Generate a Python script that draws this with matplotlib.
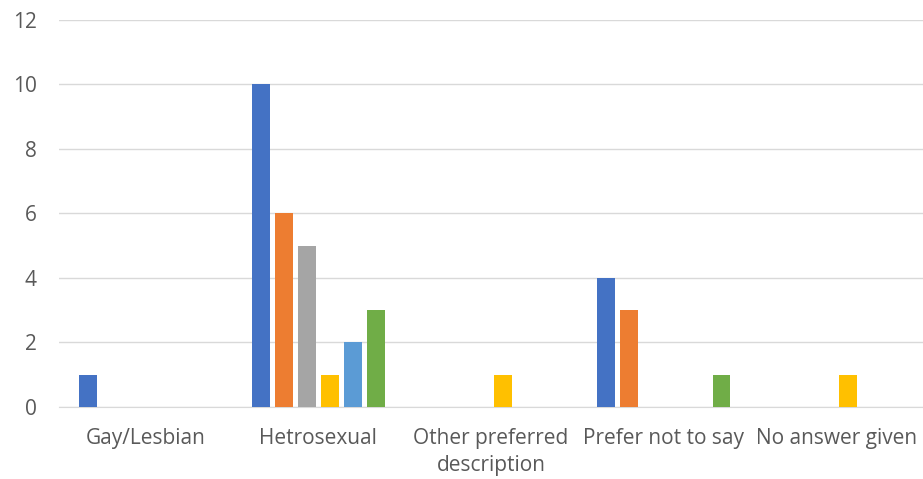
import matplotlib.pyplot as plt
import numpy as np

categories = ["Gay/Lesbian", "Hetrosexual", "Other preferred\ndescription",
              "Prefer not to say", "No answer given"]
s1 = [1, 10, 0, 4, 0]
s2 = [0, 6, 0, 3, 0]
s3 = [0, 5, 0, 0, 0]
s4 = [0, 1, 1, 0, 1]
s5 = [0, 2, 0, 0, 0]
s6 = [0, 3, 0, 1, 0]
series = [s1, s2, s3, s4, s5, s6]
colors = ["#4472C4", "#ED7D31", "#A5A5A5", "#FFC000", "#5B9BD5", "#70AD47"]

plt.rcParams['font.family'] = ['Open Sans', 'DejaVu Sans']

fig = plt.figure(figsize=(9.23, 4.79), dpi=100)
ax = fig.add_axes([0.064, 0.1503, 0.936, 0.8087])

x = np.arange(len(categories))
pitch = 0.1335
width = 0.104
for i, (vals, c) in enumerate(zip(series, colors)):
    offs = (i - 2.5) * pitch
    for xi, v in zip(x, vals):
        if v > 0:
            ax.bar(xi + offs, v, width, color=c, zorder=3)

ax.set_xlim(-0.5, len(categories) - 0.5)
ax.set_ylim(0, 12)
ax.set_yticks(range(0, 13, 2))
ax.set_xticks(x)
ax.set_xticklabels(categories, fontsize=15, color="#595959", linespacing=1.4)
ax.tick_params(axis='y', labelsize=15, labelcolor="#595959", length=0, pad=16)
ax.tick_params(axis='x', length=0, pad=15)
ax.grid(axis='y', color="#D9D9D9", linewidth=1, zorder=0)
for s in ["top", "right", "left"]:
    ax.spines[s].set_visible(False)
ax.spines["bottom"].set_color("#D9D9D9")

fig.savefig("out.png", dpi=100)
